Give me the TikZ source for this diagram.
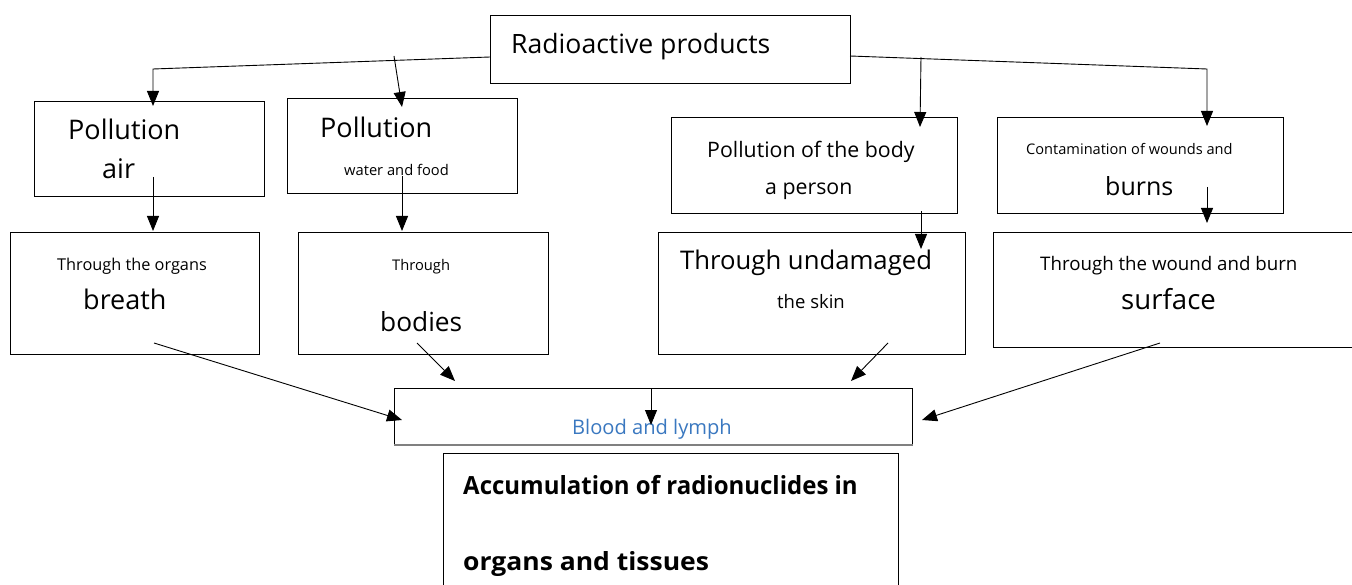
\documentclass[tikz,border=0pt]{standalone}
\usepackage{fontspec}
\setmainfont{Open Sans}
\usetikzlibrary{arrows.meta}
\definecolor{bluetxt}{HTML}{3A78C0}
\tikzset{
  box/.style={draw=black, line width=1pt, inner sep=0pt, anchor=north west},
  lbl/.style={anchor=base west, inner sep=0pt, text=black},
  arr/.style={draw=black, line width=0.9pt, -{Triangle[length=15pt,width=12pt]}},
}
\newcommand{\fs}[1]{\fontsize{#1}{#1}\selectfont}
\begin{document}
\begin{tikzpicture}[x=1pt,y=-1pt]
\useasboundingbox[fill=white] (0,0) rectangle (1352,585);
% boxes
\node[box, minimum width=360, minimum height=68] (top) at (490,15) {};
\node[box, minimum width=230, minimum height=95] (b1) at (34,101) {};
\node[box, minimum width=230, minimum height=95] (b2) at (287,98) {};
\node[box, minimum width=286, minimum height=96] (b3) at (671,117) {};
\node[box, minimum width=286, minimum height=96] (b4) at (997,117) {};
\node[box, minimum width=249, minimum height=122] (b5) at (10,232) {};
\node[box, minimum width=250, minimum height=122] (b6) at (298,232) {};
\node[box, minimum width=307, minimum height=122] (b7) at (658,232) {};
\node[box, minimum width=365, minimum height=115] (b8) at (993,232) {};
\node[box, minimum width=518, minimum height=56] (blood) at (394,388) {};
\draw[gray, line width=2pt] (blood.south west) -- (blood.south east);
\coordinate (accNW) at (443,453);
\coordinate (accNE) at (898,453);
\draw[line width=0.8pt] (443,590) -- (accNW) -- (accNE) -- (898,590);
% texts
\node[lbl, font=\fs{26.6}] (t0) at (511,54) {Radioactive products};
\node[lbl, font=\fs{27}] (t1a) at (68,139.5) {Pollution};
\node[lbl, font=\fs{27}] (t1b) at (102,179) {air};
\node[lbl, font=\fs{27}] (t2a) at (320,137.5) {Pollution};
\node[lbl, font=\fs{14.7}] (t2b) at (344,176) {water and food};
\node[lbl, font=\fs{21.3}] (t3a) at (707,157.5) {Pollution of the body};
\node[lbl, font=\fs{21.3}] (t3b) at (765,194.5) {a person};
\node[lbl, font=\fs{14.6}] (t4a) at (1026,155) {Contamination of wounds and};
\node[lbl, font=\fs{25}] (t4b) at (1105,196) {burns};
\node[lbl, font=\fs{16.3}] (t5a) at (57,271) {Through the organs};
\node[lbl, font=\fs{27}] (t5b) at (83,309.5) {breath};
\node[lbl, font=\fs{14.7}] (t6a) at (392,271) {Through};
\node[lbl, font=\fs{26.3}] (t6b) at (380,331) {bodies};
\node[lbl, font=\fs{25.7}] (t7a) at (680,270) {Through undamaged};
\node[lbl, font=\fs{18.5}] (t7b) at (777,308.5) {the skin};
\node[lbl, font=\fs{18.7}] (t8a) at (1040,270.5) {Through the wound and burn};
\node[lbl, font=\fs{27.6}] (t8b) at (1121,309.5) {surface};
\node[lbl, font=\fs{20.1}, text=bluetxt] (tbl) at (572,434) {Blood and lymph};
\node[lbl, font=\bfseries\fs{25}] (tac1) at (463,494) {\scalebox{0.96}[1]{Accumulation of radionuclides in}};
\node[lbl, font=\bfseries\fs{25}] (tac2) at (463,570) {\scalebox{1.06}[1]{organs and tissues}};
% connector coordinates
\coordinate (tl) at (490,57);
\coordinate (tlk) at (153,69);
\coordinate (in1) at (153,106);
\coordinate (s2) at (394,56);
\coordinate (in2) at (402,107);
\coordinate (tr) at (850,56);
\coordinate (trk) at (1207,69);
\coordinate (in4) at (1207,126);
\coordinate (s3) at (921,57);
\coordinate (in3) at (920,127);
\coordinate (o1) at (153,177);
\coordinate (in5) at (153,231);
\coordinate (o2) at (402,176);
\coordinate (in6) at (402,231);
\coordinate (o3) at (921,211);
\coordinate (in7) at (921,249);
\coordinate (o4) at (1207,187);
\coordinate (in8) at (1207,223);
\coordinate (o5) at (154,343);
\coordinate (e5) at (402,420);
\coordinate (o6) at (417,343);
\coordinate (e6) at (455,381);
\coordinate (o7) at (888,343);
\coordinate (e7) at (851,381);
\coordinate (o8) at (1160,343);
\coordinate (e8) at (922,420);
\coordinate (ob) at (651,388);
\coordinate (eb) at (651,425);
% connectors
\draw[arr] (tl) -- (tlk) -- (in1);
\draw[arr] (s2) -- (in2);
\draw[arr] (tr) -- (trk) -- (in4);
\draw[arr] (s3) -- (in3);
\draw[arr] (o1) -- (in5);
\draw[arr] (o2) -- (in6);
\draw[arr] (o3) -- (in7);
\draw[arr] (o4) -- (in8);
\draw[arr] (o5) -- (e5);
\draw[arr] (o6) -- (e6);
\draw[arr] (o7) -- (e7);
\draw[arr] (o8) -- (e8);
\draw[arr] (ob) -- (eb);
\end{tikzpicture}
\end{document}
